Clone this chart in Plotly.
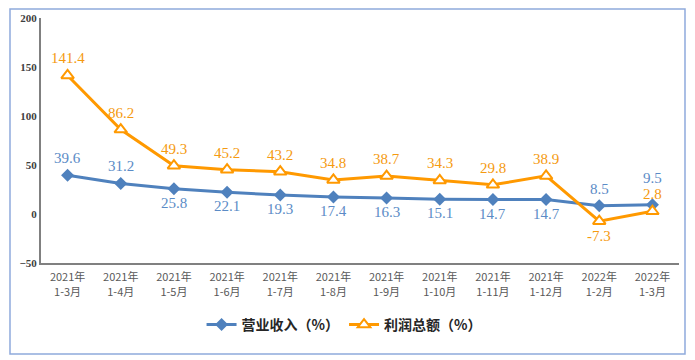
import plotly.graph_objects as go

categories = ["2021年<br>1-3月", "2021年<br>1-4月", "2021年<br>1-5月", "2021年<br>1-6月",
              "2021年<br>1-7月", "2021年<br>1-8月", "2021年<br>1-9月", "2021年<br>1-10月",
              "2021年<br>1-11月", "2021年<br>1-12月", "2022年<br>1-2月", "2022年<br>1-3月"]
revenue = [39.6, 31.2, 25.8, 22.1, 19.3, 17.4, 16.3, 15.1, 14.7, 14.7, 8.5, 9.5]
profit = [141.4, 86.2, 49.3, 45.2, 43.2, 34.8, 38.7, 34.3, 29.8, 38.9, -7.3, 2.8]
y_ticks = [-50, 0, 50, 100, 150, 200]

# label offsets (pixels, style only)
rev_shift = [17, 17, -14, -14, -14, -14, -14, -14, -14, -14, 17, 27]
pro_shift = [17, 17, 17, 17, 17, 17, 17, 17, 17, 17, -15, 17]

BLUE = "#4F81BD"
BLUE_TXT = "#5B8BC6"
ORANGE = "#FF9900"
ORANGE_TXT = "#F59A10"
x = list(range(len(categories)))

fig = go.Figure()
fig.add_trace(go.Scatter(
    x=x, y=revenue, name="营业收入（%）", mode="lines+markers",
    line=dict(color=BLUE, width=3),
    marker=dict(symbol="diamond", size=10, color=BLUE),
))
fig.add_trace(go.Scatter(
    x=x, y=profit, name="利润总额（%）", mode="lines+markers",
    line=dict(color=ORANGE, width=3),
    marker=dict(symbol="triangle-up", size=11, color="white", line=dict(color=ORANGE, width=2)),
))

annotations = []
for xi, v, s in zip(x, revenue, rev_shift):
    annotations.append(dict(x=xi, y=v, text=f"{v:.1f}", showarrow=False, yshift=s,
                            font=dict(family="Liberation Serif", size=15, color=BLUE_TXT)))
for xi, v, s in zip(x, profit, pro_shift):
    annotations.append(dict(x=xi, y=v, text=f"{v:.1f}", showarrow=False, yshift=s,
                            font=dict(family="Liberation Serif", size=15, color=ORANGE_TXT)))

fig.update_layout(
    width=687, height=352,
    margin=dict(l=33, r=16, t=10, b=97, autoexpand=False),
    paper_bgcolor="white", plot_bgcolor="white",
    showlegend=True,
    legend=dict(orientation="h", x=0.475, xanchor="center", y=-0.253, yanchor="middle",
                font=dict(family="Noto Sans CJK SC", size=14, color="#262626", weight="bold"),
                itemwidth=30),
    xaxis=dict(tickmode="array", tickvals=x, ticktext=categories, range=[-0.5, 11.5],
               showgrid=False, zeroline=False, showline=True, linecolor="#808080", linewidth=2,
               ticks="", ticklabelstandoff=3,
               tickfont=dict(family="Noto Sans CJK SC", size=11, color="#595959")),
    yaxis=dict(range=[-50, 200], tickvals=y_ticks, showgrid=False, zeroline=False,
               showline=True, linecolor="#808080", linewidth=2, ticks="",
               tickfont=dict(family="Liberation Serif", size=11, color="#404040", weight="bold")),
    annotations=annotations,
    shapes=[dict(type="rect", xref="paper", yref="paper",
                 x0=-0.0486, x1=1.0094, y0=-0.371, y1=1.0367,
                 line=dict(color="#8FAADC", width=1.5), layer="below")],
)

fig.write_html("out.html")
